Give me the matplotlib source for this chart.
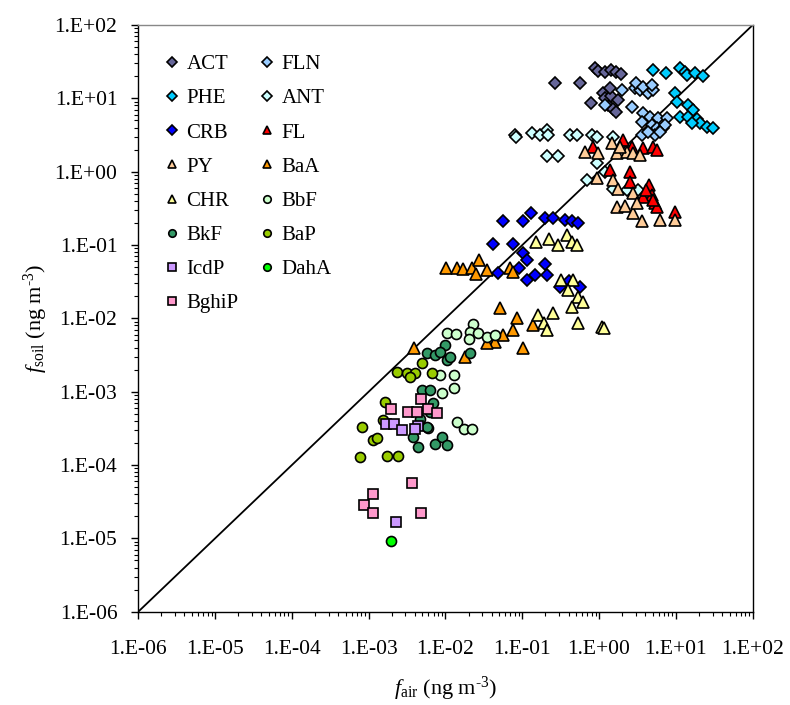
import matplotlib
matplotlib.use("Agg")
import matplotlib.pyplot as plt
from matplotlib.ticker import LogLocator, FuncFormatter, NullFormatter
import numpy as np

plt.rcParams['font.family'] = ['Liberation Serif', 'DejaVu Serif']
plt.rcParams['mathtext.fontset'] = 'custom'
plt.rcParams['mathtext.rm'] = 'Liberation Serif'
plt.rcParams['mathtext.it'] = 'Liberation Serif:italic'

# ---------------- data (f_air, f_soil in ng m-3) ----------------
ACT_x = [0.265, 0.56, 0.89, 0.97, 1.2, 1.44, 1.67, 1.94, 0.79, 1.11, 1.29, 1.5, 1.67, 1.2, 1.44, 1.75, 1.39]
ACT_y = [16.4, 16.4, 26, 23.7, 22.6, 24.3, 22.6, 21.7, 8.7, 12, 8.2, 7.1, 6.5, 10, 10.9, 9.4, 13.8]

FLN_x = [1.97, 2.93, 3.41, 4.37, 5.08, 3.05, 3.76, 4.84, 1.19, 2.66, 3.76, 4.6, 3.59, 5.9, 7.6, 4.84, 5.6, 6.85, 7.2, 3.59, 5.35, 6.2, 4.37]
FLN_y = [13, 13.7, 13, 11.7, 13, 16, 14.4, 15.2, 8.1, 7.7, 6.25, 5.6, 4.8, 5.35, 5.35, 4.3, 3.9, 3.9, 4.3, 3.16, 3.16, 3.5, 3.5]

PHE_x = [5.0, 7.4, 11.3, 13.1, 13.8, 17.7, 22.3, 9.7, 10.2, 14.5, 16.9, 11.3, 14.5, 18.7, 20.6, 25.2, 30.7, 16.1]
PHE_y = [24, 22.4, 25.7, 23, 20.8, 22.4, 20.2, 11.7, 9.0, 8.1, 6.9, 5.6, 5.6, 5.3, 4.6, 4.1, 3.9, 4.6]

ANT_x = [0.080, 0.084, 0.133, 0.17, 0.212, 0.217, 0.418, 0.51, 0.80, 0.93, 1.53, 0.212, 0.294, 0.93, 0.69, 1.19, 1.53, 2.29, 3.24]
ANT_y = [3.16, 2.97, 3.33, 3.16, 3.7, 3.16, 3.16, 3.16, 3.16, 3.0, 3.0, 1.64, 1.64, 1.3, 0.77, 1.0, 0.59, 0.56, 0.56]

CRB_x = [0.0556, 0.101, 0.129, 0.198, 0.253, 0.36, 0.44, 0.536, 0.041, 0.076, 0.101, 0.114, 0.198, 0.091, 0.049, 0.146, 0.212, 0.114, 0.31, 0.564, 0.40]
CRB_y = [0.215, 0.215, 0.27, 0.231, 0.231, 0.22, 0.215, 0.2, 0.102, 0.102, 0.077, 0.0625, 0.056, 0.049, 0.041, 0.039, 0.039, 0.033, 0.0265, 0.0265, 0.032]

FL_x = [0.84, 2.07, 2.66, 3.76, 4.99, 5.6, 1.39, 2.52, 2.52, 4.47, 4.84, 5.35, 5.6, 9.7, 3.76, 4.07, 5.0]
FL_y = [2.19, 2.7, 2.19, 2.08, 2.19, 1.98, 1.05, 1.0, 0.73, 0.66, 0.48, 0.37, 0.33, 0.285, 0.456, 0.56, 0.41]

PY_x = [0.655, 0.977, 1.46, 1.69, 2.29, 2.79, 3.41, 1.87, 0.93, 1.53, 1.78, 2.79, 1.69, 2.17, 2.79, 3.59, 6.2, 9.7, 3.09]
PY_y = [1.87, 1.78, 2.44, 1.78, 1.87, 1.78, 1.69, 2.19, 0.81, 0.77, 0.59, 0.51, 0.33, 0.34, 0.27, 0.21, 0.22, 0.22, 0.37]

BaA_x = [0.0101, 0.014, 0.017, 0.0219, 0.0275, 0.0344, 0.069, 0.076, 0.051, 0.0846, 0.076, 0.0566, 0.137, 0.044, 0.0344, 0.101, 0.018, 0.0039, 0.025]
BaA_y = [0.048, 0.048, 0.0467, 0.048, 0.0625, 0.0456, 0.048, 0.0432, 0.0137, 0.01, 0.0069, 0.0059, 0.0081, 0.0048, 0.0046, 0.0039, 0.003, 0.0039, 0.04]

CHR_x = [0.151, 0.225, 0.294, 0.378, 0.44, 0.51, 0.316, 0.46, 0.397, 0.536, 0.622, 0.44, 0.162, 0.253, 0.192, 0.212, 0.536, 1.08, 1.16]
CHR_y = [0.111, 0.12, 0.1, 0.137, 0.111, 0.1, 0.0334, 0.0334, 0.0244, 0.0197, 0.0169, 0.0144, 0.0111, 0.0117, 0.0086, 0.0069, 0.0086, 0.0077, 0.0073]

BbF_x = [0.0104, 0.0137, 0.0226, 0.0208, 0.0267, 0.0344, 0.044, 0.0204, 0.0085, 0.0129, 0.0129, 0.0089, 0.006, 0.0143, 0.0174, 0.0219]
BbF_y = [0.00625, 0.0061, 0.0084, 0.0066, 0.0064, 0.0056, 0.0059, 0.0053, 0.00169, 0.00169, 0.00111, 0.00095, 0.000317, 0.00039, 0.000307, 0.000307]

BkF_x = [0.0057, 0.0073, 0.0098, 0.0104, 0.0085, 0.0115, 0.0208, 0.005, 0.0063, 0.0069, 0.0038, 0.0044, 0.0073, 0.0089, 0.0104, 0.0057, 0.0063, 0.0047]
BkF_y = [0.00334, 0.00316, 0.00433, 0.0027, 0.0035, 0.003, 0.00334, 0.00105, 0.00105, 0.0007, 0.000243, 0.000178, 0.000194, 0.000243, 0.000188, 0.000333, 0.00053, 0.00042]

BaP_x = [0.00236, 0.00318, 0.004, 0.005, 0.0066, 0.00345, 0.00163, 0.00152, 0.00081, 0.00115, 0.0013, 0.00077, 0.00171, 0.00243]
BaP_y = [0.00187, 0.00178, 0.00178, 0.00244, 0.00178, 0.0016, 0.00073, 0.00041, 0.000333, 0.00022, 0.000231, 0.000127, 0.000133, 0.000133]

IcdP_x = [0.00168, 0.00215, 0.00269, 0.0044, 0.004, 0.00227]
IcdP_y = [0.000362, 0.000362, 0.0003, 0.00034, 0.000307, 1.69e-5]

DahA_x = [0.00193]
DahA_y = [9.3e-6]

BghiP_x = [0.00193, 0.00328, 0.00422, 0.00475, 0.006, 0.0077, 0.00363, 0.00115, 0.00087, 0.00115, 0.00475]
BghiP_y = [0.000575, 0.000533, 0.000533, 0.000787, 0.000575, 0.000518, 5.74e-5, 4.03e-5, 2.85e-5, 2.24e-5, 2.24e-5]

line_x = [1e-6, 1e2]
line_y = [1e-6, 1e2]

# name, x, y, marker, color
series = [
    ("ACT", ACT_x, ACT_y, "D", "#666699"),
    ("FLN", FLN_x, FLN_y, "D", "#99CCFF"),
    ("PHE", PHE_x, PHE_y, "D", "#00CCFF"),
    ("ANT", ANT_x, ANT_y, "D", "#CCFFFF"),
    ("CRB", CRB_x, CRB_y, "D", "#0000FF"),
    ("FL", FL_x, FL_y, "^", "#FF0000"),
    ("PY", PY_x, PY_y, "^", "#FFCC99"),
    ("BaA", BaA_x, BaA_y, "^", "#FF9900"),
    ("CHR", CHR_x, CHR_y, "^", "#FFFF99"),
    ("BbF", BbF_x, BbF_y, "o", "#CCFFCC"),
    ("BkF", BkF_x, BkF_y, "o", "#339966"),
    ("BaP", BaP_x, BaP_y, "o", "#99CC00"),
    ("IcdP", IcdP_x, IcdP_y, "s", "#CC99FF"),
    ("DahA", DahA_x, DahA_y, "o", "#00FF00"),
    ("BghiP", BghiP_x, BghiP_y, "s", "#FF99CC"),
]
sizes = {"D": 6.4, "^": 8.4, "o": 7.2, "s": 7.0}

fig = plt.figure(figsize=(7.9, 7.05), dpi=100)
ax = fig.add_axes([0.175, 0.1323, 0.7778, 0.8322])

ax.plot(line_x, line_y, color="black", lw=1.3, zorder=1)

handles = {}
for name, xs, ys, m, c in series:
    ms = sizes[m]
    h, = ax.plot(xs, ys, linestyle="none", marker=m, markersize=ms,
                 markerfacecolor=c, markeredgecolor="black", markeredgewidth=1.2,
                 label=name, zorder=3)
    handles[name] = h

ax.set_xscale("log")
ax.set_yscale("log")
ax.set_xlim(1e-6, 1e2)
ax.set_ylim(1e-6, 1e2)

fmt = FuncFormatter(lambda v, p: "1.E{:+03d}".format(int(round(np.log10(v)))))
for axis in (ax.xaxis, ax.yaxis):
    axis.set_major_locator(LogLocator(base=10, numticks=20))
    axis.set_minor_locator(LogLocator(base=10, subs=np.arange(2, 10), numticks=20))
    axis.set_major_formatter(fmt)
    axis.set_minor_formatter(NullFormatter())

ax.tick_params(which="major", direction="out", length=5, width=1.0, labelsize=15.5)
ax.tick_params(which="minor", direction="out", length=3, width=0.8)
ax.tick_params(axis="x", which="major", pad=15)
ax.tick_params(axis="y", which="major", pad=10)

ax.spines["top"].set_color("#888888")
ax.spines["right"].set_color("black")
for s in ax.spines.values():
    s.set_linewidth(1.0)

ax.set_xlabel(r"$f_{\mathrm{air}}$ (ng m$^{\text{-3}}$)", fontsize=16, labelpad=12)
ax.set_ylabel(r"$f_{\mathrm{soil}}$ (ng m$^{\text{-3}}$)", fontsize=16, labelpad=3)

order = ["ACT", "PHE", "CRB", "PY", "CHR", "BkF", "IcdP", "BghiP",
         "FLN", "ANT", "FL", "BaA", "BbF", "BaP", "DahA"]
leg = ax.legend([handles[n] for n in order], order, ncol=2, loc="upper left",
                bbox_to_anchor=(0.016, 0.978), frameon=False, fontsize=15,
                markerscale=0.75, handlelength=0.7, handletextpad=0.35,
                columnspacing=1.0, labelspacing=0.7, borderpad=0.3)

fig.savefig("out.png", dpi=100)
